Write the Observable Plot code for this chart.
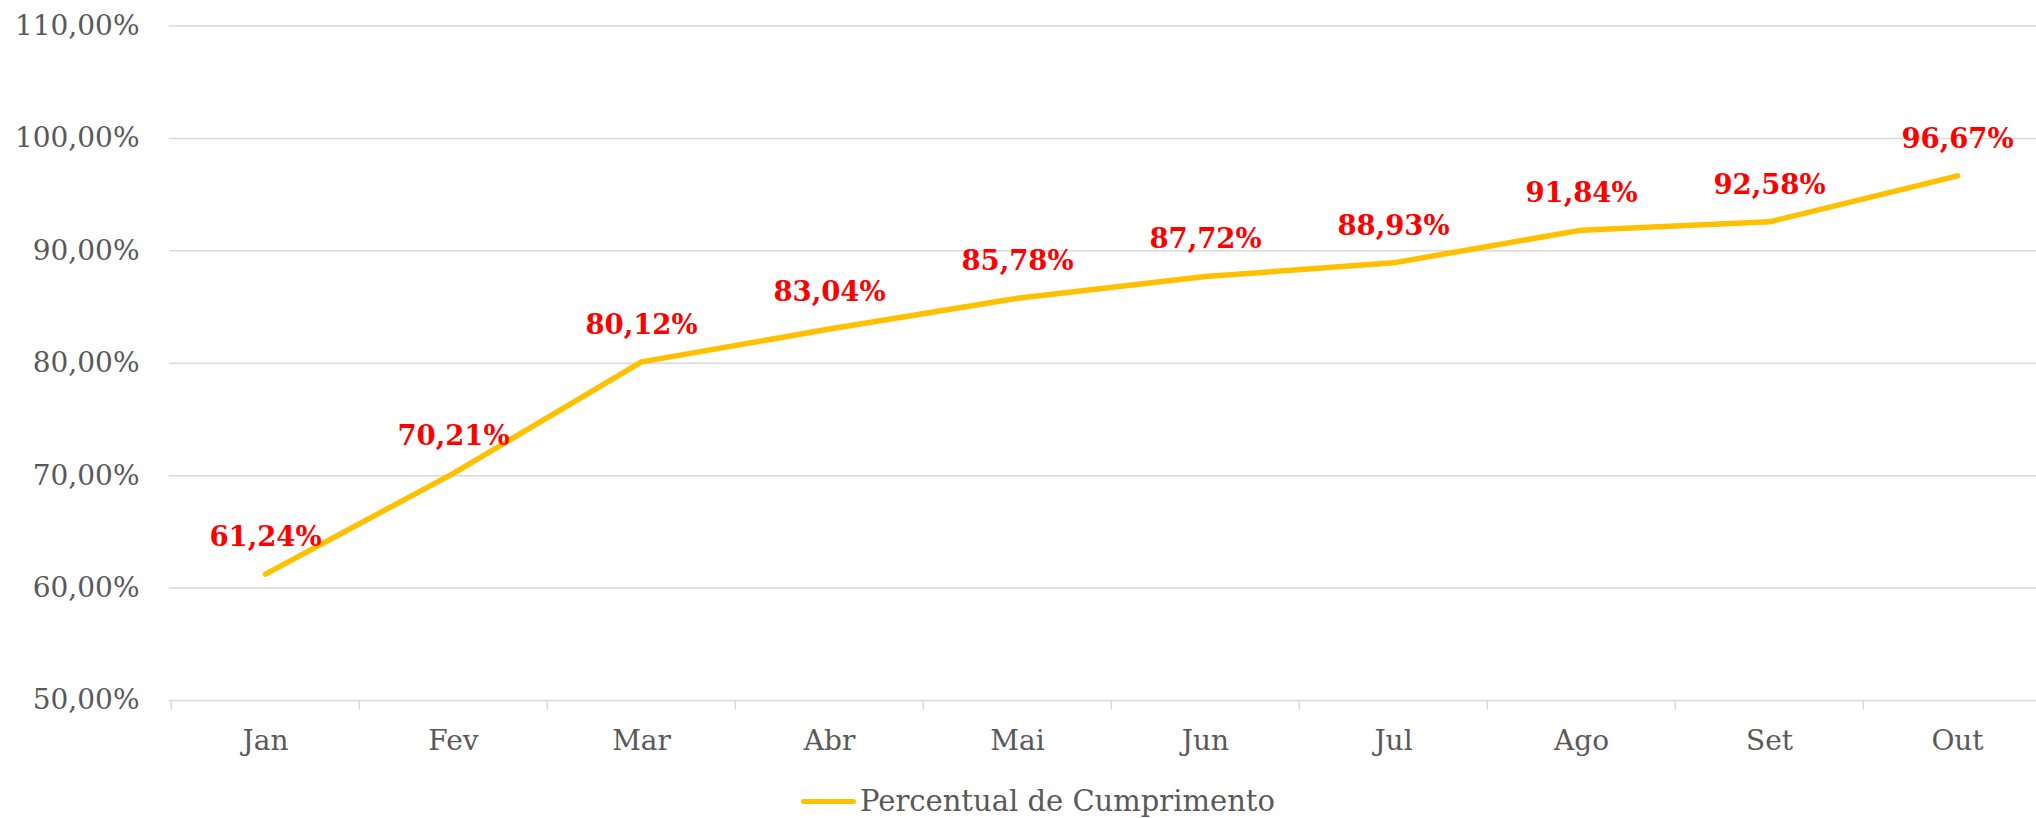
<!DOCTYPE html>
<html>
<head>
<meta charset="utf-8">
<script src="https://cdn.jsdelivr.net/npm/d3@7"></script>
<script src="https://cdn.jsdelivr.net/npm/@observablehq/plot@0.6"></script>
<style>
  html, body { margin: 0; padding: 0; background: #fff; }
  #chart { width: 2036px; }
  .legend { display: flex; justify-content: center; align-items: center; height: 52px;
    font-family: "DejaVu Serif", serif; font-size: 29px; color: #595959; margin-left: 40px; }
  .legend .sw { width: 55px; height: 5px; background: #FFC000; border-radius: 3px; margin-right: 4px; }
</style>
</head>
<body>
<div id="chart"></div>
<script>
const months = ["Jan", "Fev", "Mar", "Abr", "Mai", "Jun", "Jul", "Ago", "Set", "Out"];
const values = [61.24, 70.21, 80.12, 83.04, 85.78, 87.72, 88.93, 91.84, 92.58, 96.67];
const yTicks = [50, 60, 70, 80, 90, 100, 110];
const seriesName = "Percentual de Cumprimento";

const data = months.map((m, i) => ({month: m, value: values[i]}));
const fmt = v => v.toFixed(2).replace(".", ",") + "%";

const xRange = [169, 2052];
const bw = (xRange[1] - xRange[0]) / months.length;
const font = "DejaVu Serif";

const chart = Plot.plot({
  width: 2036,
  height: 775,
  marginTop: 25.5,
  marginBottom: 75,
  marginLeft: 169,
  marginRight: 0,
  style: {fontFamily: font, background: "#fff", overflow: "visible"},
  x: {type: "band", domain: months, range: xRange, padding: 0},
  y: {domain: [50, 110]},
  marks: [
    Plot.ruleY(yTicks, {y: d => d, stroke: "#d9d9d9", strokeWidth: 1.5}),
    Plot.axisY({ticks: yTicks, tickSize: 0, tickPadding: 30, tickFormat: fmt, fontSize: 28, fill: "#595959", label: null}),
    Plot.axisX({ticks: months, tickSize: 10, text: null, stroke: "#d9d9d9", strokeWidth: 1.5, dx: -bw / 2, label: null}),
    Plot.axisX({ticks: months, tickSize: 0, tickPadding: 30, fontSize: 28, fill: "#595959", label: null}),
    Plot.line(data, {x: "month", y: "value", stroke: "#FFC000", strokeWidth: 5.5, strokeLinecap: "round", strokeLinejoin: "round"}),
    Plot.text(data, {x: "month", y: "value", text: d => fmt(d.value), dy: -37, fill: "#FF0000", fontSize: 27.5, fontWeight: "bold"})
  ]
});
document.getElementById("chart").appendChild(chart);

const legend = document.createElement("div");
legend.className = "legend";
legend.innerHTML = `<span class="sw"></span><span></span>`;
legend.lastChild.textContent = seriesName;
document.getElementById("chart").appendChild(legend);
</script>
</body>
</html>
